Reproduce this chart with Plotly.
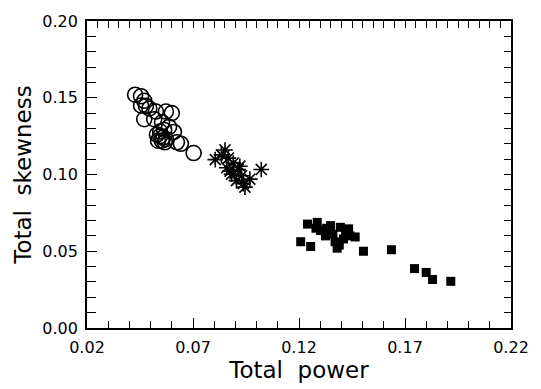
import plotly.graph_objects as go

# Group 1: open circles
circ_power = [0.0427, 0.0455, 0.0470, 0.0455, 0.0478, 0.0494, 0.0525, 0.0572, 0.0600,
              0.0470, 0.0517, 0.0554, 0.0587, 0.0610, 0.0530, 0.0545, 0.0558, 0.0572,
              0.0535, 0.0553, 0.0567, 0.0545, 0.0564, 0.0624, 0.0643, 0.0703]
circ_skew = [0.152, 0.151, 0.148, 0.145, 0.1447, 0.143, 0.141, 0.141, 0.140,
             0.136, 0.136, 0.134, 0.131, 0.1277, 0.126, 0.125, 0.124, 0.123,
             0.122, 0.122, 0.121, 0.128, 0.129, 0.121, 0.120, 0.114]

# Group 2: asterisks
ast_power = [0.0851, 0.0805, 0.0867, 0.0890, 0.0859, 0.0913, 0.0882, 0.0929, 0.0905,
             0.0968, 0.0945, 0.0937, 0.0834, 0.0875, 0.0921, 0.1022]
ast_skew = [0.116, 0.1097, 0.1107, 0.1075, 0.1044, 0.1033, 0.1002, 0.0992, 0.0960,
            0.0970, 0.0918, 0.0940, 0.1128, 0.1022, 0.1054, 0.1033]

# Group 3: filled squares
sq_power = [0.1208, 0.1240, 0.1286, 0.1255, 0.1302, 0.1349, 0.1395, 0.1434, 0.1465,
            0.1370, 0.1380, 0.1325, 0.1360, 0.1410, 0.1280, 0.1390, 0.1420, 0.1330,
            0.1440, 0.1504, 0.1636, 0.1745, 0.1800, 0.1830, 0.1916]
sq_skew = [0.0562, 0.0677, 0.0688, 0.0531, 0.0635, 0.0667, 0.0656, 0.0646, 0.0593,
           0.0562, 0.0520, 0.0600, 0.0610, 0.0580, 0.0650, 0.0540, 0.0620, 0.0650,
           0.0600, 0.0500, 0.0510, 0.0387, 0.0362, 0.0316, 0.0304]

x_ticks = [0.02, 0.07, 0.12, 0.17, 0.22]
y_ticks = [0.00, 0.05, 0.10, 0.15, 0.20]

X_RANGE = [0.02, 0.22]
Y_RANGE = [0.0, 0.20]

fig = go.Figure()

fig.add_trace(go.Scatter(
    x=circ_power, y=circ_skew, mode="markers",
    marker=dict(symbol="circle-open", size=15, color="black", line=dict(width=1.6, color="black")),
    showlegend=False))
fig.add_trace(go.Scatter(
    x=ast_power, y=ast_skew, mode="markers",
    marker=dict(symbol="asterisk", size=13, color="black", line=dict(width=1.6, color="black")),
    showlegend=False))
fig.add_trace(go.Scatter(
    x=sq_power, y=sq_skew, mode="markers",
    marker=dict(symbol="square", size=9, color="black", line=dict(width=0)),
    showlegend=False))

# empty traces so the top and right tick axes get drawn
fig.add_trace(go.Scatter(x=[None], y=[None], xaxis="x2", yaxis="y", showlegend=False, hoverinfo="skip"))
fig.add_trace(go.Scatter(x=[None], y=[None], xaxis="x", yaxis="y2", showlegend=False, hoverinfo="skip"))

tick_font = dict(family="DejaVu Sans", size=16, color="black")
title_font = dict(family="DejaVu Sans", size=23, color="black")

fig.update_layout(
    width=541, height=389,
    margin=dict(l=87, r=25, t=13, b=58),
    paper_bgcolor="white", plot_bgcolor="white",
    xaxis=dict(
        range=X_RANGE, tickvals=x_ticks, ticktext=[f"{v:.2f}" for v in x_ticks],
        ticks="inside", ticklen=10, tickwidth=1.3, tickcolor="black",
        minor=dict(dtick=0.01, tick0=0.02, ticks="inside", ticklen=7, tickwidth=1.2, tickcolor="black"),
        showline=True, linecolor="black", linewidth=1.8, mirror=True,
        showgrid=False, zeroline=False, tickfont=tick_font, ticklabelstandoff=4,
        title=dict(text="Total  power", font=title_font, standoff=4),
    ),
    xaxis2=dict(
        range=X_RANGE, overlaying="x", side="top",
        tick0=0.02, dtick=0.005, ticks="inside", ticklen=7, tickwidth=1.2, tickcolor="black",
        showticklabels=False, showline=False, showgrid=False, zeroline=False,
    ),
    yaxis=dict(
        range=Y_RANGE, tickvals=y_ticks, ticktext=[f"{v:.2f}" for v in y_ticks],
        ticks="inside", ticklen=10, tickwidth=1.3, tickcolor="black",
        minor=dict(dtick=0.01, tick0=0.0, ticks="inside", ticklen=9, tickwidth=1.2, tickcolor="black"),
        showline=True, linecolor="black", linewidth=1.8, mirror=True,
        showgrid=False, zeroline=False, tickfont=tick_font, ticklabelstandoff=4,
        title=dict(text="Total  skewness", font=title_font, standoff=4),
    ),
    yaxis2=dict(
        range=Y_RANGE, overlaying="y", side="right",
        tick0=0.0, dtick=0.01, ticks="inside", ticklen=7, tickwidth=1.2, tickcolor="black",
        showticklabels=False, showline=False, showgrid=False, zeroline=False,
    ),
)

fig.write_html("out.html")
